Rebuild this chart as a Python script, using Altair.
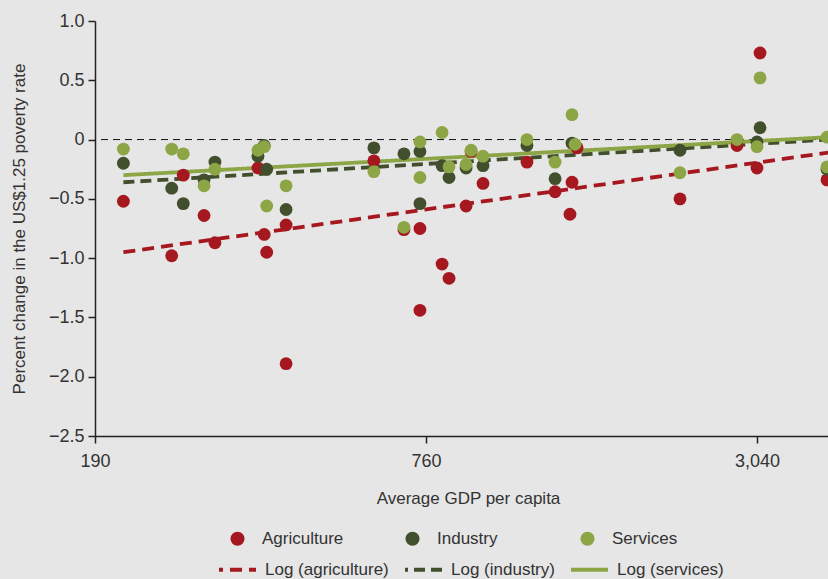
import altair as alt
import pandas as pd

# ---- data ----
agri_gdp = [214, 262, 275, 300, 314, 376, 386, 390, 423, 423, 611, 693, 741, 741, 813,
            837, 899, 918, 965, 1160, 1305, 1389, 1401, 1431, 2202, 2796, 3079, 3040, 4076]
agri_val = [-0.52, -0.98, -0.30, -0.64, -0.87, -0.24, -0.80, -0.95, -0.72, -1.89, -0.18, -0.76,
            -0.75, -1.44, -1.05, -1.17, -0.56, -0.10, -0.37, -0.19, -0.44, -0.63, -0.36, -0.07,
            -0.50, -0.05, 0.73, -0.24, -0.34]

ind_gdp = [214, 262, 275, 300, 314, 376, 386, 390, 423, 611, 693, 741, 741, 813, 837, 899,
           965, 1160, 1305, 1401, 2202, 3040, 3079, 4076]
ind_val = [-0.20, -0.41, -0.54, -0.34, -0.19, -0.14, -0.05, -0.25, -0.59, -0.07, -0.12, -0.10,
           -0.54, -0.22, -0.32, -0.24, -0.22, -0.05, -0.33, -0.03, -0.09, -0.02, 0.10, -0.25]

svc_gdp = [214, 262, 275, 300, 314, 376, 386, 390, 423, 611, 693, 741, 741, 813, 837, 899,
           918, 965, 1160, 1305, 1401, 1419, 2202, 2796, 3040, 3079, 4076, 4076]
svc_val = [-0.08, -0.08, -0.12, -0.39, -0.25, -0.09, -0.06, -0.56, -0.39, -0.27, -0.74, -0.02,
           -0.32, 0.06, -0.23, -0.21, -0.09, -0.14, 0.00, -0.19, 0.21, -0.04, -0.28, 0.00,
           -0.06, 0.52, 0.02, -0.23]

# logarithmic trend lines (end points)
fit_gdp = [214, 4093]
agri_fit = [-0.95, -0.11]
ind_fit = [-0.36, 0.00]
svc_fit = [-0.30, 0.02]

sectors = ["Agriculture", "Industry", "Services"]
fits = ["Log (agriculture)", "Log (industry)", "Log (services)"]
colors = ["#a6181f", "#424f2c", "#8ca545"]

FONT = "Liberation Sans Narrow, Liberation Sans, Arial"

pts = pd.concat([
    pd.DataFrame({"gdp": agri_gdp, "value": agri_val, "Sector": sectors[0]}),
    pd.DataFrame({"gdp": ind_gdp, "value": ind_val, "Sector": sectors[1]}),
    pd.DataFrame({"gdp": svc_gdp, "value": svc_val, "Sector": sectors[2]}),
], ignore_index=True)

lines = pd.concat([
    pd.DataFrame({"gdp": fit_gdp, "value": agri_fit, "Fit": fits[0]}),
    pd.DataFrame({"gdp": fit_gdp, "value": ind_fit, "Fit": fits[1]}),
    pd.DataFrame({"gdp": fit_gdp, "value": svc_fit, "Fit": fits[2]}),
], ignore_index=True)

xscale = alt.Scale(type="log", domain=[190, 4093], nice=False)
yscale = alt.Scale(domain=[-2.5, 1.0], nice=False)

xaxis = alt.Axis(values=[190, 760, 3040], format=",d", title="Average GDP per capita",
                 grid=False, tickSize=7, labelPadding=9, titlePadding=20, titleX=373,
                 labelFontSize=18, titleFontSize=17, labelFlush=False)
yaxis = alt.Axis(values=[1.0, 0.5, 0, -0.5, -1.0, -1.5, -2.0, -2.5],
                 labelExpr="datum.value == 0 ? '0' : format(datum.value, '.1f')",
                 title="Percent change in the US$1.25 poverty rate",
                 grid=False, tickSize=7, labelPadding=4, titlePadding=20,
                 labelFontSize=18, titleFontSize=17)

zero = alt.Chart(pd.DataFrame({"y": [0]})).mark_rule(
    color="#111111", strokeWidth=1, strokeDash=[7, 5]
).encode(y=alt.Y("y:Q", scale=yscale, axis=yaxis))

line_legend = alt.Legend(title=None, orient="none", legendX=122, legendY=528,
                         direction="horizontal", columns=3, symbolType="stroke",
                         symbolSize=1369, symbolStrokeWidth=4, symbolDashOffset=8,
                         labelFontSize=17, labelOffset=7, columnPadding=8, padding=0,
                         labelColor="#333333")

fit_lines = alt.Chart(lines).mark_line(strokeWidth=3.8, clip=True).encode(
    x=alt.X("gdp:Q", scale=xscale, axis=xaxis),
    y=alt.Y("value:Q", scale=yscale, axis=yaxis),
    color=alt.Color("Fit:N", scale=alt.Scale(domain=fits, range=colors), legend=line_legend),
    strokeDash=alt.StrokeDash("Fit:N", scale=alt.Scale(domain=fits, range=[[12, 7], [11, 6], [1, 0]]),
                              legend=line_legend),
)

pt_legend = alt.Legend(title=None, orient="none", legendX=134, legendY=509,
                       direction="horizontal", columns=3, symbolType="circle",
                       symbolSize=200, symbolStrokeWidth=0, symbolOpacity=1, labelFontSize=17,
                       labelOffset=16, columnPadding=60, gridAlign="all", padding=0,
                       labelColor="#333333")

points = alt.Chart(pts).mark_circle(size=165, opacity=1).encode(
    x=alt.X("gdp:Q", scale=xscale, axis=xaxis),
    y=alt.Y("value:Q", scale=yscale, axis=yaxis),
    color=alt.Color("Sector:N", scale=alt.Scale(domain=sectors, range=colors), legend=pt_legend),
)

chart = alt.layer(zero, fit_lines, points).resolve_scale(
    color="independent", strokeDash="independent"
).properties(
    width=733, height=415,
    padding={"left": 95, "top": 21, "right": 0, "bottom": 143},
    autosize=alt.AutoSizeParams(type="none"),
    background="#e6e6e6",
).configure_view(stroke=None).configure_axis(
    domainColor="#222222", tickColor="#222222", labelColor="#333333", titleColor="#333333",
    labelFont=FONT, titleFont=FONT, titleFontWeight="normal", domainWidth=1.5, tickWidth=1.5,
).configure_legend(labelFont=FONT)

chart.save("out.html", embed_options={"renderer": "svg", "actions": False})
